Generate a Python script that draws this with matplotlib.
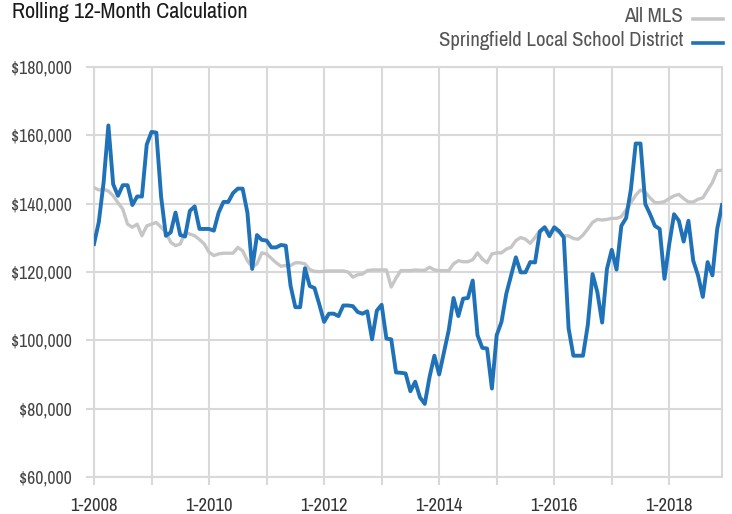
import matplotlib
matplotlib.use("Agg")
import matplotlib.pyplot as plt
from matplotlib import font_manager
from matplotlib.font_manager import FontProperties
from matplotlib.lines import Line2D
import numpy as np

# ---------------- data ----------------
title = "Rolling 12-Month Calculation"
series_names = ["All MLS", "Springfield Local School District"]

# monthly values, Jan 2008 .. Dec 2018 (in $ thousands)
all_mls = [
    144.7, 144.0, 144.2, 143.7, 142.3, 140.3, 138.4, 134.0, 133.1, 134.0, 130.6, 133.5,
    134.0, 134.5, 133.1, 131.6, 128.7, 127.7, 128.2, 131.6, 131.1, 130.6, 129.5, 128.2,
    125.8, 124.8, 125.3, 125.5, 125.5, 125.5, 127.2, 126.2, 123.3, 121.4, 122.4, 125.6,
    125.3, 124.0, 122.7, 121.7, 121.9, 121.9, 122.7, 122.7, 122.4, 120.7, 120.2, 120.1,
    120.2, 120.3, 120.3, 120.3, 120.3, 120.0, 118.5, 119.2, 119.4, 120.4, 120.6, 120.6,
    120.6, 120.6, 115.6, 118.2, 120.4, 120.4, 120.4, 120.6, 120.5, 120.5, 121.4, 120.6,
    120.4, 120.4, 120.4, 122.4, 123.3, 123.0, 123.0, 123.6, 125.6, 123.8, 122.7, 125.3,
    125.6, 125.6, 126.7, 127.2, 129.2, 130.1, 129.6, 128.4, 130.1, 132.1, 133.1, 131.6,
    132.4, 131.6, 130.6, 130.6, 129.8, 129.6, 130.8, 132.6, 134.5, 135.4, 135.2, 135.4,
    135.7, 135.7, 136.2, 138.2, 140.3, 142.5, 144.0, 143.3, 141.7, 140.3, 140.3, 140.6,
    141.5, 142.3, 142.7, 141.5, 140.5, 140.5, 141.3, 141.7, 144.0, 146.2, 149.6, 149.8,
]
springfield = [
    128.2, 134.6, 146.2, 162.9, 145.7, 142.3, 145.4, 145.4, 139.6, 142.1, 142.1, 157.3,
    161.0, 160.8, 142.0, 130.6, 131.6, 137.4, 130.8, 130.4, 137.9, 139.2, 132.6, 132.6,
    132.6, 132.1, 137.4, 140.5, 140.5, 143.1, 144.4, 144.4, 137.4, 120.9, 130.8, 129.4,
    129.2, 127.2, 127.2, 127.9, 127.7, 116.0, 109.7, 109.7, 121.1, 115.9, 115.3, 110.5,
    105.4, 107.8, 107.8, 107.1, 110.2, 110.2, 110.0, 108.3, 107.8, 108.5, 100.3, 108.7,
    110.4, 100.5, 100.3, 90.6, 90.5, 90.3, 85.1, 87.9, 83.3, 81.4, 89.3, 95.5,
    90.0, 96.5, 103.0, 112.4, 107.1, 112.2, 112.4, 117.5, 101.5, 97.8, 97.6, 85.9,
    101.5, 105.4, 113.6, 119.0, 124.3, 119.9, 119.9, 122.9, 122.8, 131.8, 133.1, 130.5,
    133.1, 132.0, 130.1, 103.5, 95.5, 95.5, 95.5, 104.4, 119.4, 114.1, 105.2, 120.9,
    126.5, 120.7, 133.5, 135.8, 144.2, 157.6, 157.6, 139.9, 136.9, 133.5, 132.6, 118.0,
    128.2, 136.9, 135.0, 128.9, 135.0, 123.3, 119.0, 112.7, 122.9, 119.0, 132.6, 139.6,
]
x_tick_labels = ["1-2008", "", "1-2010", "", "1-2012", "", "1-2014", "", "1-2016", "", "1-2018"]
y_ticks = [60000, 80000, 100000, 120000, 140000, 160000, 180000]

# ---------------- font: prefer a narrow / condensed sans ----------------
def pick_font():
    bad = ("bold", "italic", "oblique", "light", "thin", "medium", "black", "semibold", "extra", "mono", "serif")
    entries = font_manager.fontManager.ttflist
    def ok(f):
        fn = f.fname.lower().split("/")[-1]
        return not any(b in fn for b in bad) and f.weight in (400, "normal", "regular")
    tiers = [
        lambda f: "narrow" in f.name.lower() or "narrow" in f.fname.lower(),
        lambda f: "condensed" in f.fname.lower() or "condensed" in f.name.lower()
                  or str(f.stretch) in ("condensed", "semi-condensed", "extra-condensed"),
    ]
    for t in tiers:
        c = [f for f in entries if t(f) and ok(f) and "serif" not in f.name.lower()]
        if c:
            c.sort(key=lambda f: (0 if "liberation" in f.name.lower() or "roboto" in f.name.lower() else 1, f.fname))
            return FontProperties(fname=c[0].fname)
    for name in ("Roboto", "Liberation Sans", "DejaVu Sans"):
        if any(f.name == name for f in entries):
            return FontProperties(family=name)
    return FontProperties()

FP = pick_font()

GRID = "#d9d9d9"
BLUE = "#1f72b8"
GRAY = "#c6c6c6"

fig = plt.figure(figsize=(7.32, 5.14), dpi=100)
W, H = 732, 514
left, right, top, bottom = 94, 722, 67, 477
ax = fig.add_axes([left / W, 1 - bottom / H, (right - left) / W, (bottom - top) / H])

x = np.arange(len(springfield))
ax.plot(x, np.array(all_mls) * 1000, color=GRAY, lw=2.4, solid_joinstyle="round", zorder=3)
ax.plot(x, np.array(springfield) * 1000, color=BLUE, lw=2.8, solid_joinstyle="round", zorder=4)

ax.set_xlim(0, len(springfield) - 1)
ax.set_ylim(60000, 180000)
ax.set_xticks(np.arange(0, len(x_tick_labels) * 12, 12))
ax.set_xticklabels(x_tick_labels)
ax.set_yticks(y_ticks)
ax.set_yticklabels([f"${v:,.0f}" for v in y_ticks])

ax.grid(True, color=GRID, lw=1.5, zorder=0)
ax.set_axisbelow(True)
for s in ax.spines.values():
    s.set_color(GRID)
    s.set_linewidth(1.5)
ax.tick_params(axis="x", length=6, width=1.5, color=GRID, pad=9, labelcolor="#333333")
ax.tick_params(axis="y", length=6, width=1.5, color=GRID, pad=10, labelcolor="#444444")
for lbl in ax.get_xticklabels() + ax.get_yticklabels():
    lbl.set_fontproperties(FP)
    lbl.set_fontsize(12)

t_title = fig.text(12 / W, 1 - 11.5 / H, title, fontproperties=FP, fontsize=13,
                   color="#1a1a1a", ha="left", va="center")

leg_texts = []
leg_items = [(series_names[0], GRAY, 17.0), (series_names[1], BLUE, 41.0)]
for name, col, yy in leg_items:
    t = fig.text(683 / W, 1 - yy / H, name, fontproperties=FP, fontsize=12.5,
                 color="#555555", ha="right", va="center")
    leg_texts.append(t)
    fig.add_artist(Line2D([693 / W, 723 / W], [1 - (yy + 2) / H] * 2, color=col, lw=2.6,
                          transform=fig.transFigure))

# fit text sizes so widths match the reference layout
fig.canvas.draw()
r = fig.canvas.get_renderer()

def scale_for(textobj, target):
    w = textobj.get_window_extent(r).width
    return textobj.get_fontsize() * target / w if w > 0 else textobj.get_fontsize()

t_title.set_fontsize(min(scale_for(t_title, 244), 16))
s_leg = min(scale_for(leg_texts[1], 247), 15)
for t in leg_texts:
    t.set_fontsize(s_leg)
s_y = min(scale_for(ax.get_yticklabels()[-1], 61), 14)
for lbl in ax.get_yticklabels():
    lbl.set_fontsize(s_y)
s_x = min(scale_for(ax.get_xticklabels()[0], 47.5), 14)
for lbl in ax.get_xticklabels():
    lbl.set_fontsize(s_x)

fig.savefig("out.png", dpi=100)
